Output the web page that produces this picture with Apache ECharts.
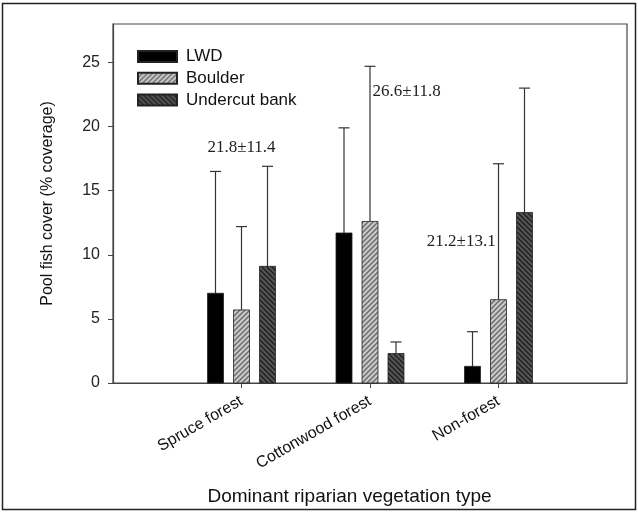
<!DOCTYPE html>
<html><head><meta charset="utf-8">
<script src="https://cdn.jsdelivr.net/npm/echarts@6/dist/echarts.min.js"></script>
<style>html,body{margin:0;padding:0;background:#fff}#c{width:638px;height:512px}</style>
</head><body><div id="c"></div>
<script>
// ---- data ----
var categories = ['Spruce forest', 'Cottonwood forest', 'Non-forest'];
var seriesNames = ['LWD', 'Boulder', 'Undercut bank'];
var lwdMean = [7.0, 11.7, 1.3];
var lwdUpper = [16.5, 19.9, 4.0];
var boulderMean = [5.7, 12.6, 6.5];
var boulderUpper = [12.2, 24.7, 17.1];
var undercutMean = [9.1, 2.3, 13.3];
var undercutUpper = [16.9, 3.2, 23.0];
var yTicks = [0, 5, 10, 15, 20, 25];
var annotations = ['21.8\u00b111.4', '26.6\u00b111.8', '21.2\u00b113.1'];
var annotationAnchor = [[1, 18.4], [2.02, 22.7], [2.71, 11.0]];

function hatch(bg, fg, dir) {
  var s = 5, c = document.createElement('canvas');
  c.width = s; c.height = s;
  var g = c.getContext('2d');
  g.fillStyle = bg; g.fillRect(0, 0, s, s);
  g.strokeStyle = fg; g.lineWidth = 1.4;
  g.beginPath();
  if (dir === '/') {
    g.moveTo(-1, 1); g.lineTo(1, -1);
    g.moveTo(0, s); g.lineTo(s, 0);
    g.moveTo(s - 1, s + 1); g.lineTo(s + 1, s - 1);
  } else {
    g.moveTo(-1, s - 1); g.lineTo(1, s + 1);
    g.moveTo(0, 0); g.lineTo(s, s);
    g.moveTo(s - 1, -1); g.lineTo(s + 1, 1);
  }
  g.stroke();
  return { image: c, repeat: 'repeat' };
}

var fills = ['#000000', hatch('#c9c9c9', '#6a6a6a', '/'), hatch('#555555', '#1e1e1e', '\\')];
var offsets = [-26, 0, 26];
var barW = 16;
var means = [lwdMean, boulderMean, undercutMean];
var uppers = [lwdUpper, boulderUpper, undercutUpper];

function makeSeries(k) {
  var data = categories.map(function (c, i) { return [i + 1, means[k][i], uppers[k][i]]; });
  return {
    type: 'custom', name: seriesNames[k], data: data,
    itemStyle: { color: fills[k], borderColor: '#222', borderWidth: 0.8 },
    renderItem: function (params, api) {
      var x = api.value(0), m = api.value(1), u = api.value(2);
      var p0 = api.coord([x, 0]), p1 = api.coord([x, m]), p2 = api.coord([x, u]);
      var cx = p0[0] + offsets[k];
      return {
        type: 'group', children: [
          { type: 'line', shape: { x1: cx, y1: p1[1], x2: cx, y2: p2[1] }, style: { stroke: '#333', lineWidth: 1.2 } },
          { type: 'line', shape: { x1: cx - 5.5, y1: p2[1], x2: cx + 5.5, y2: p2[1] }, style: { stroke: '#333', lineWidth: 1.2 } },
          { type: 'rect', shape: { x: cx - barW / 2, y: p1[1], width: barW, height: p0[1] - p1[1] },
            style: { fill: fills[k], stroke: '#222', lineWidth: 0.8 } }
        ]
      };
    }
  };
}

var series = [0, 1, 2].map(makeSeries);
series.push({
  type: 'custom', name: 'ann', silent: true,
  data: annotationAnchor.map(function (a, i) { return [a[0], a[1], i]; }),
  renderItem: function (params, api) {
    var p = api.coord([api.value(0), api.value(1)]);
    var i = api.value(2);
    return { type: 'text', x: p[0], y: p[1],
      style: { text: annotations[i], font: '17px "Liberation Serif", "Times New Roman", serif', fill: '#222',
        textAlign: i === 1 ? 'left' : 'center', textVerticalAlign: 'middle' } };
  }
});

var chart = echarts.init(document.getElementById('c'), null, { renderer: 'canvas' });
chart.setOption({
  animation: false,
  textStyle: { fontFamily: '"Liberation Sans", Arial, sans-serif' },
  grid: { left: 113, right: 11, top: 24, bottom: 129, show: true, borderColor: '#444', borderWidth: 1.2, backgroundColor: 'transparent' },
  legend: {
    data: seriesNames, orient: 'vertical', left: 137, top: 48, padding: 0, itemWidth: 39, itemHeight: 11, itemGap: 4.7,
    icon: 'rect', textStyle: { fontSize: 17, color: '#111', padding: [0, 0, 0, 4], fontFamily: '"Liberation Sans", Arial, sans-serif' }
  },
  xAxis: {
    type: 'value', min: 0, max: 4, interval: 1,
    name: 'Dominant riparian vegetation type', nameLocation: 'middle', nameGap: 104,
    nameTextStyle: { fontSize: 19, color: '#111', padding: [0, 41, 0, 0] },
    axisLine: { lineStyle: { color: '#444', width: 1.2 } },
    axisTick: { show: true, length: 5, customValues: [1, 2, 3], lineStyle: { color: '#444' } },
    axisLabel: { customValues: [1, 2, 3], rotate: 30, fontSize: 16, color: '#111', margin: 17,
      formatter: function (v) { return categories[Math.round(v) - 1] || ''; } },
    splitLine: { show: false }
  },
  yAxis: {
    type: 'value', min: 0, max: 28, interval: 5,
    name: 'Pool fish cover (% coverage)', nameLocation: 'middle', nameGap: 57,
    nameTextStyle: { fontSize: 16, color: '#111' },
    axisLine: { show: true, lineStyle: { color: '#444', width: 1.2 } },
    axisTick: { show: true, length: 5, lineStyle: { color: '#444' } },
    axisLabel: { fontSize: 16, color: '#222', margin: 13, showMaxLabel: false,
      formatter: function (v) { return yTicks.indexOf(v) >= 0 ? String(v) : ''; } },
    splitLine: { show: false }
  },
  graphic: [{ type: 'rect', shape: { x: 2.5, y: 3.5, width: 633, height: 506 }, style: { fill: 'none', stroke: '#222', lineWidth: 1.5 }, silent: true }],
  series: series
});
</script>
</body></html>
